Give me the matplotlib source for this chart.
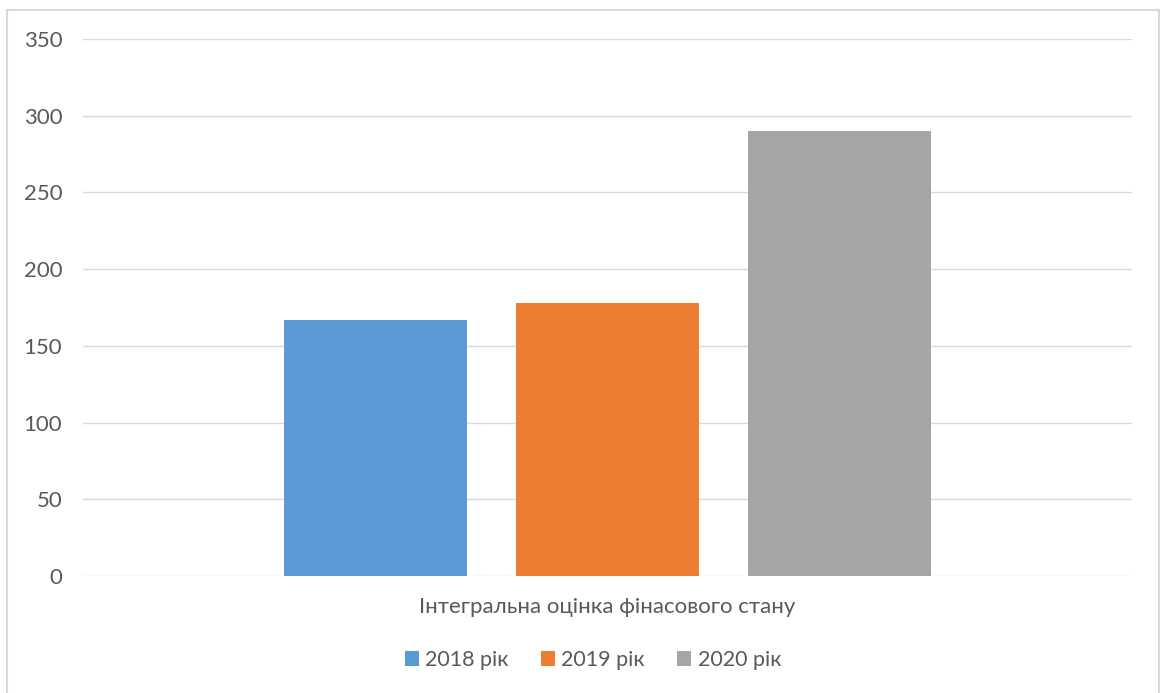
import matplotlib.pyplot as plt
from matplotlib.patches import Rectangle

# Integral estimate of financial condition by year
series = ['2018 рік', '2019 рік', '2020 рік']
values = [167, 178, 290]
colors = ['#5b9bd5', '#ed7d31', '#a5a5a5']
category = 'Інтегральна оцінка фінасового стану'
yticks = [0, 50, 100, 150, 200, 250, 300, 350]

plt.rcParams['font.family'] = ['Lato', 'DejaVu Sans']
text_color = '#595959'
grid_color = '#d9d9d9'

W, H = 1160, 693
fig = plt.figure(figsize=(W / 100, H / 100), dpi=100)

# outer chart frame (bottom edge runs off the canvas)
fig.patches.append(Rectangle((7 / W, -0.05), 1152 / W, (H - 10) / H + 0.05,
                             transform=fig.transFigure, fill=False,
                             edgecolor=grid_color, linewidth=1.5))

ax = fig.add_axes([83 / W, (H - 576) / H, 1049 / W, 537 / H])

offsets = [-0.2212, 0, 0.2212]
bar_w = 0.1745
for off, v, c, name in zip(offsets, values, colors, series):
    ax.bar(off, v, width=bar_w, color=c, label=name, zorder=3)

ax.set_xlim(-0.5, 0.5)
ax.set_ylim(0, 350)
ax.set_yticks(yticks)
ax.set_yticklabels([str(t) for t in yticks], fontsize=16, color=text_color)
ax.tick_params(axis='y', length=0, pad=15)
ax.set_xticks([0])
ax.set_xticklabels([category], fontsize=16, color=text_color)
ax.tick_params(axis='x', length=0, pad=15)
ax.grid(axis='y', color=grid_color, linewidth=1, zorder=0)
for s in ax.spines.values():
    s.set_visible(False)

fig.legend(loc='center', bbox_to_anchor=(593 / W, (H - 660) / H),
           ncol=3, frameon=False, fontsize=15.5, handlelength=0.65,
           handleheight=0.65, handletextpad=0.3, columnspacing=1.5,
           labelcolor=text_color)

fig.savefig('out.png', dpi=100)
